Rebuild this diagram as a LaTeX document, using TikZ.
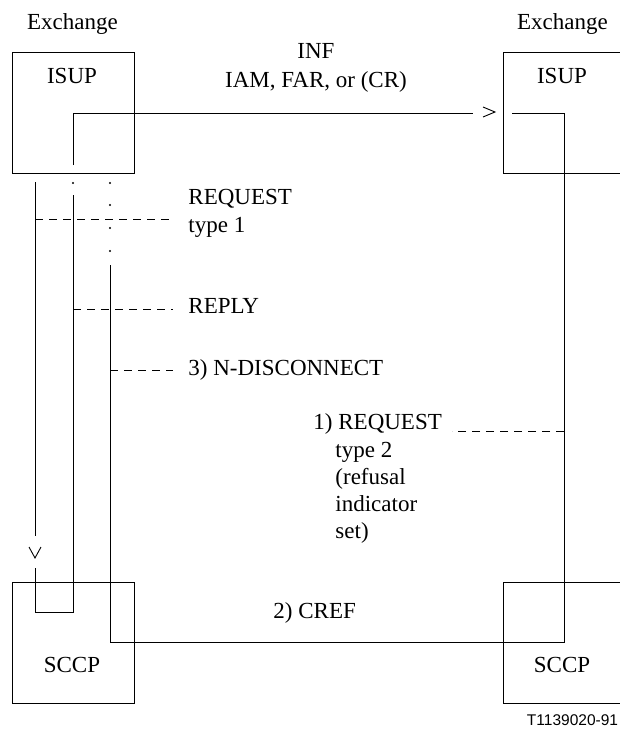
\documentclass[tikz,border=0pt]{standalone}
\usepackage{fontspec}
\setmainfont{Liberation Serif}
\newfontfamily\figsans{Liberation Sans}
\begin{document}
\begin{tikzpicture}[x=1pt,y=-1pt,line width=0.9pt,
  box/.style={draw,line width=0.9pt,minimum width=121.5pt,minimum height=121pt,inner sep=0pt},
  lbl/.style={font=\fontsize{23}{27}\selectfont,inner sep=0pt},
  msg/.style={dash pattern=on 8pt off 6pt},
  dotmark/.style={fill=black,draw=none},
  tipline/.style={line width=0.9pt,line join=miter}]
\useasboundingbox (0,0) rectangle (620,729);
\clip (0,0) rectangle (620,729);
% boxes
\node[box] (isupL) at (73.25,112.5) {};
\node[box] (isupR) at (564,112.5) {};
\node[box] (sccpL) at (73.25,642.5) {};
\node[box] (sccpR) at (564,642.5) {};
% titles
\node[lbl,anchor=base] (exL) at (72.5,29) {Exchange};
\node[lbl,anchor=base] (exR) at (562.5,29) {Exchange};
\node[lbl,anchor=base] (isupLt) at (72,83) {ISUP};
\node[lbl,anchor=base] (isupRt) at (562,83) {ISUP};
\node[lbl,anchor=base] (sccpLt) at (72,672) {SCCP};
\node[lbl,anchor=base] (sccpRt) at (562,672) {SCCP};
% message labels
\node[lbl,anchor=base] (inf) at (316,58) {INF};
\node[lbl,anchor=base] (iam) at (316,87) {IAM, FAR, or (CR)};
\node[lbl,anchor=base west] (req1) at (188,204) {REQUEST};
\node[lbl,anchor=base west] (req1b) at (188,232) {type 1};
\node[lbl,anchor=base west] (reply) at (188,313) {REPLY};
\node[lbl,anchor=base west] (ndisc) at (188,375) {3) N-DISCONNECT};
\node[lbl,anchor=base west] (req2) at (313,429) {1) REQUEST};
\node[lbl,anchor=base west] (req2b) at (335,457) {type 2};
\node[lbl,anchor=base west] (req2c) at (335,484) {(refusal};
\node[lbl,anchor=base west] (req2d) at (335,511) {indicator};
\node[lbl,anchor=base west] (req2e) at (335,538) {set)};
\node[lbl,anchor=base west] (cref) at (273,618) {2) CREF};
\node[inner sep=0pt,anchor=base east,font=\figsans\fontsize{15.5}{18}\selectfont] (fig) at (618.5,725.5) {T1139020-91};
% coordinates of the connector path points
\coordinate (p1) at (73,165);
\coordinate (p2) at (73,113);
\coordinate (p3) at (473,113);
\coordinate (q1) at (512,113);
\coordinate (q2) at (564,113);
\coordinate (q3) at (564,642);
\coordinate (q4) at (110,642);
\coordinate (q5) at (110,265);
\coordinate (r1) at (73,195);
\coordinate (r2) at (73,612);
\coordinate (r3) at (35,612);
\coordinate (r4) at (35,568);
\coordinate (s1) at (35,182);
\coordinate (s2) at (35,536);
% solid paths
\draw (p1) -- (p2) -- (p3);
\draw[tipline] (483,107) -- (495,112) -- (483,117);
\draw (q1) -- (q2) -- (q3) -- (q4) -- (q5);
\draw (r1) -- (r2) -- (r3) -- (r4);
\draw (s1) -- (s2);
\draw[tipline] (29,547) -- (35,558) -- (41,547);
% dots
\foreach \px/\py in {73/183,110/183,110/205,110/228,110/251}
  \fill[dotmark] (\px,\py) circle (1.2pt);
% dashed messages
\coordinate (d1a) at (35,219);  \coordinate (d1b) at (173,219);
\coordinate (d2a) at (73,309);  \coordinate (d2b) at (173,309);
\coordinate (d3a) at (110,370); \coordinate (d3b) at (173,370);
\coordinate (d4a) at (564,431); \coordinate (d4b) at (452,431);
\draw[msg] (d1a) -- (d1b);
\draw[msg] (d2a) -- (d2b);
\draw[msg] (d3a) -- (d3b);
\draw[msg] (d4a) -- (d4b);
\end{tikzpicture}
\end{document}
